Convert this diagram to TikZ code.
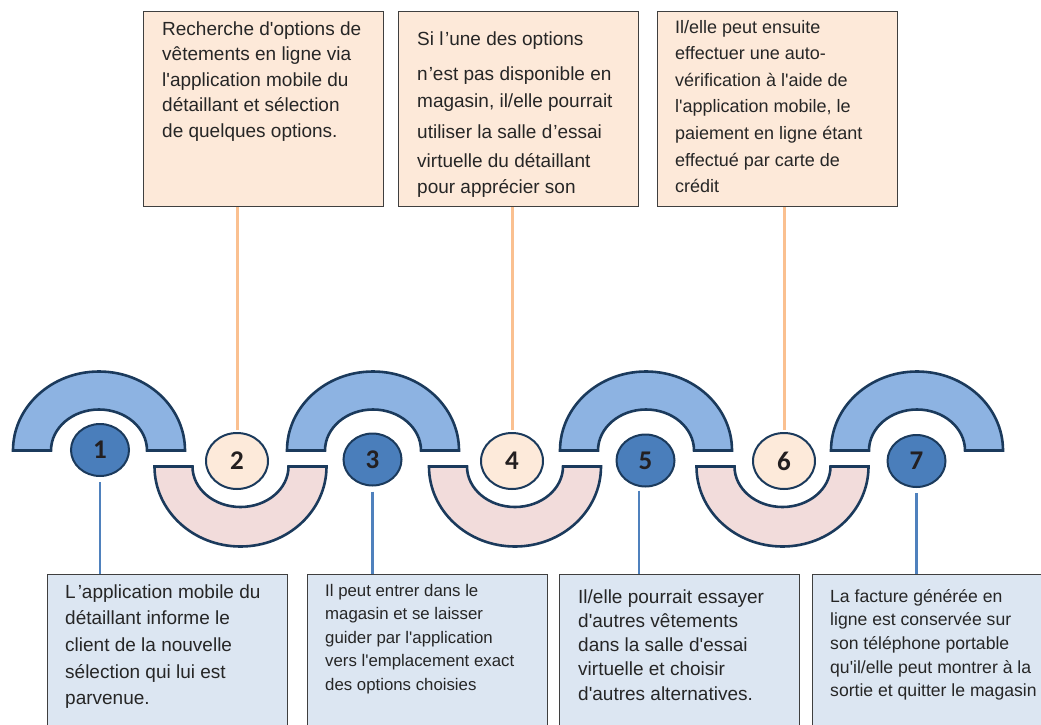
\documentclass[tikz,border=0pt]{standalone}
\usepackage{fontspec}
\setmainfont{Liberation Sans}[Ligatures=TeXOff]
\newfontfamily\digitfont{Carlito}
\usetikzlibrary{shapes.geometric}

\definecolor{peachfill}{HTML}{FDE9D9}
\definecolor{bluefill}{HTML}{DCE6F2}
\definecolor{archblue}{HTML}{8DB3E2}
\definecolor{archpink}{HTML}{F2DCDB}
\definecolor{navy}{HTML}{1B3A5C}
\definecolor{dotblue}{HTML}{4A7EBB}
\definecolor{dotpeach}{HTML}{FDEADA}
\definecolor{linkorange}{HTML}{FAC090}
\definecolor{linkblue}{HTML}{4F81BD}
\definecolor{boxedge}{HTML}{3F3F3F}
\definecolor{ink}{HTML}{262626}
\definecolor{digitink}{HTML}{231F20}

% upper (blue) and lower (pink) half rings, argument = centre x
\newcommand\drawupperarch[1]{%
  \draw[archline, fill=archblue] (#1-86,450.5)
    arc[start angle=180, end angle=360, x radius=86, y radius=79]
    -- (#1+48,450.5)
    arc[start angle=360, end angle=180, x radius=48, y radius=41] -- cycle;}
\newcommand\drawlowerarch[1]{%
  \draw[archline, fill=archpink] (#1-86,466.5)
    arc[start angle=180, end angle=0, x radius=86, y radius=80]
    -- (#1+48,466.5)
    arc[start angle=0, end angle=180, x radius=48, y radius=40.5] -- cycle;}
% step number, set slightly below the centre of its disc
\newcommand\stepnum[1]{\raisebox{-3pt}{#1}}

\begin{document}
\begin{tikzpicture}[x=1pt, y=-1pt,
  topbox/.style={draw=boxedge, line width=1.3pt, fill=peachfill,
    minimum width=240pt, minimum height=195pt, inner sep=0pt, anchor=north west},
  botbox/.style={draw=boxedge, line width=1.3pt, fill=bluefill,
    minimum width=240pt, minimum height=180pt, inner sep=0pt, anchor=north west},
  % multi-line texts are placed by the baseline of their last line
  blurb/.style={anchor=base west, align=left, inner sep=0pt, text=ink},
  archline/.style={draw=navy, line width=2.6pt, line join=miter},
  dot/.style={ellipse, draw=navy, line width=2pt, inner sep=0pt,
    font=\digitfont\bfseries\fontsize{27}{27}\selectfont, text=digitink},
  bluedot/.style={dot, fill=dotblue, minimum width=58pt, minimum height=52pt},
  peachdot/.style={dot, fill=dotpeach, minimum width=62pt, minimum height=56pt},
  orangelink/.style={draw=linkorange, line width=3pt},
  bluelink/.style={draw=linkblue, line width=2.6pt}]

\useasboundingbox (0,0) rectangle (1041,725);
\clip (0,0) rectangle (1041,725);

% description boxes, top row
\node[topbox] (t1) at (143,11) {};
\node[topbox] (t2) at (398,11) {};
\node[topbox] (t3) at (657,11) {};

% description boxes, bottom row
\node[botbox] (b1) at (47,574) {};
\node[botbox] (b2) at (307,574) {};
\node[botbox] (b3) at (559,574) {};
\node[botbox] (b4) at (812,574) {};

% texts
\node[blurb, font=\fontsize{19}{25.6}\selectfont] (tx1) at (162,137.4)
  {Recherche d'options de\\vêtements en ligne via\\l'application mobile du\\détaillant et sélection\\de quelques options.};
\node[blurb, font=\fontsize{19}{26}\selectfont] (tx2) at (417,193)
  {Si l\kern1.5pt’une des options\\[9pt]n\kern1pt’est pas disponible en\\[1pt]magasin, il/elle pourrait\\[5pt]utiliser la salle d\kern1pt’essai\\[3pt]virtuelle du détaillant\\pour apprécier son};
\node[blurb, font=\fontsize{18}{26.6}\selectfont] (tx3) at (675,192.6)
  {Il/elle peut ensuite\\effectuer une auto-\\vérification à l'aide de\\l'application mobile, le\\paiement en ligne étant\\effectué par carte de\\crédit};
\node[blurb, font=\fontsize{19}{26.7}\selectfont] (bx1) at (65,704.8)
  {L\kern2pt’application mobile du\\détaillant informe le\\client de la nouvelle\\sélection qui lui est\\parvenue.};
\node[blurb, font=\fontsize{16.8}{23.5}\selectfont] (bx2) at (325,690)
  {Il peut entrer dans le\\magasin et se laisser\\guider par l'application\\vers l'emplacement exact\\des options choisies};
\node[blurb, font=\fontsize{19}{24.3}\selectfont] (bx3) at (578,700.2)
  {Il/elle pourrait essayer\\d'autres vêtements\\dans la salle d'essai\\virtuelle et choisir\\d'autres alternatives.};
\node[blurb, font=\fontsize{17.6}{23.7}\selectfont] (bx4) at (830,696.8)
  {La facture générée en\\ligne est conservée sur\\son téléphone portable\\qu'il/elle peut montrer à la\\sortie et quitter le magasin};

% half rings
\drawupperarch{99}
\drawupperarch{373}
\drawupperarch{646}
\drawupperarch{917}
\drawlowerarch{240.5}
\drawlowerarch{515}
\drawlowerarch{782.5}

% numbered steps
\node[bluedot]  (c1) at (100,450)   {\stepnum{1}};
\node[peachdot] (c2) at (237,461)   {\stepnum{2}};
\node[bluedot]  (c3) at (372.5,459.5) {\stepnum{3}};
\node[peachdot] (c4) at (512,461)   {\stepnum{4}};
\node[bluedot]  (c5) at (645.5,460.5) {\stepnum{5}};
\node[peachdot] (c6) at (784,461)   {\stepnum{6}};
\node[bluedot]  (c7) at (916.5,461) {\stepnum{7}};

% connectors
\draw[orangelink, shorten >=2pt] (c2.north |- t1.south) -- (c2.north);
\draw[orangelink, shorten >=2pt] (c4.north |- t2.south) -- (c4.north);
\draw[orangelink, shorten >=2pt] (c6.north |- t3.south) -- (c6.north);
\draw[bluelink, shorten <=5pt] (c1.south) -- (c1.south |- b1.north);
\draw[bluelink, shorten <=5pt] (c3.south) -- (c3.south |- b2.north);
\coordinate (k5) at ([xshift=-6.5pt]c5.south);
\draw[bluelink, shorten <=3pt] (k5) -- (k5 |- b3.north);
\draw[bluelink, shorten <=5pt] (c7.south) -- (c7.south |- b4.north);
\end{tikzpicture}
\end{document}
